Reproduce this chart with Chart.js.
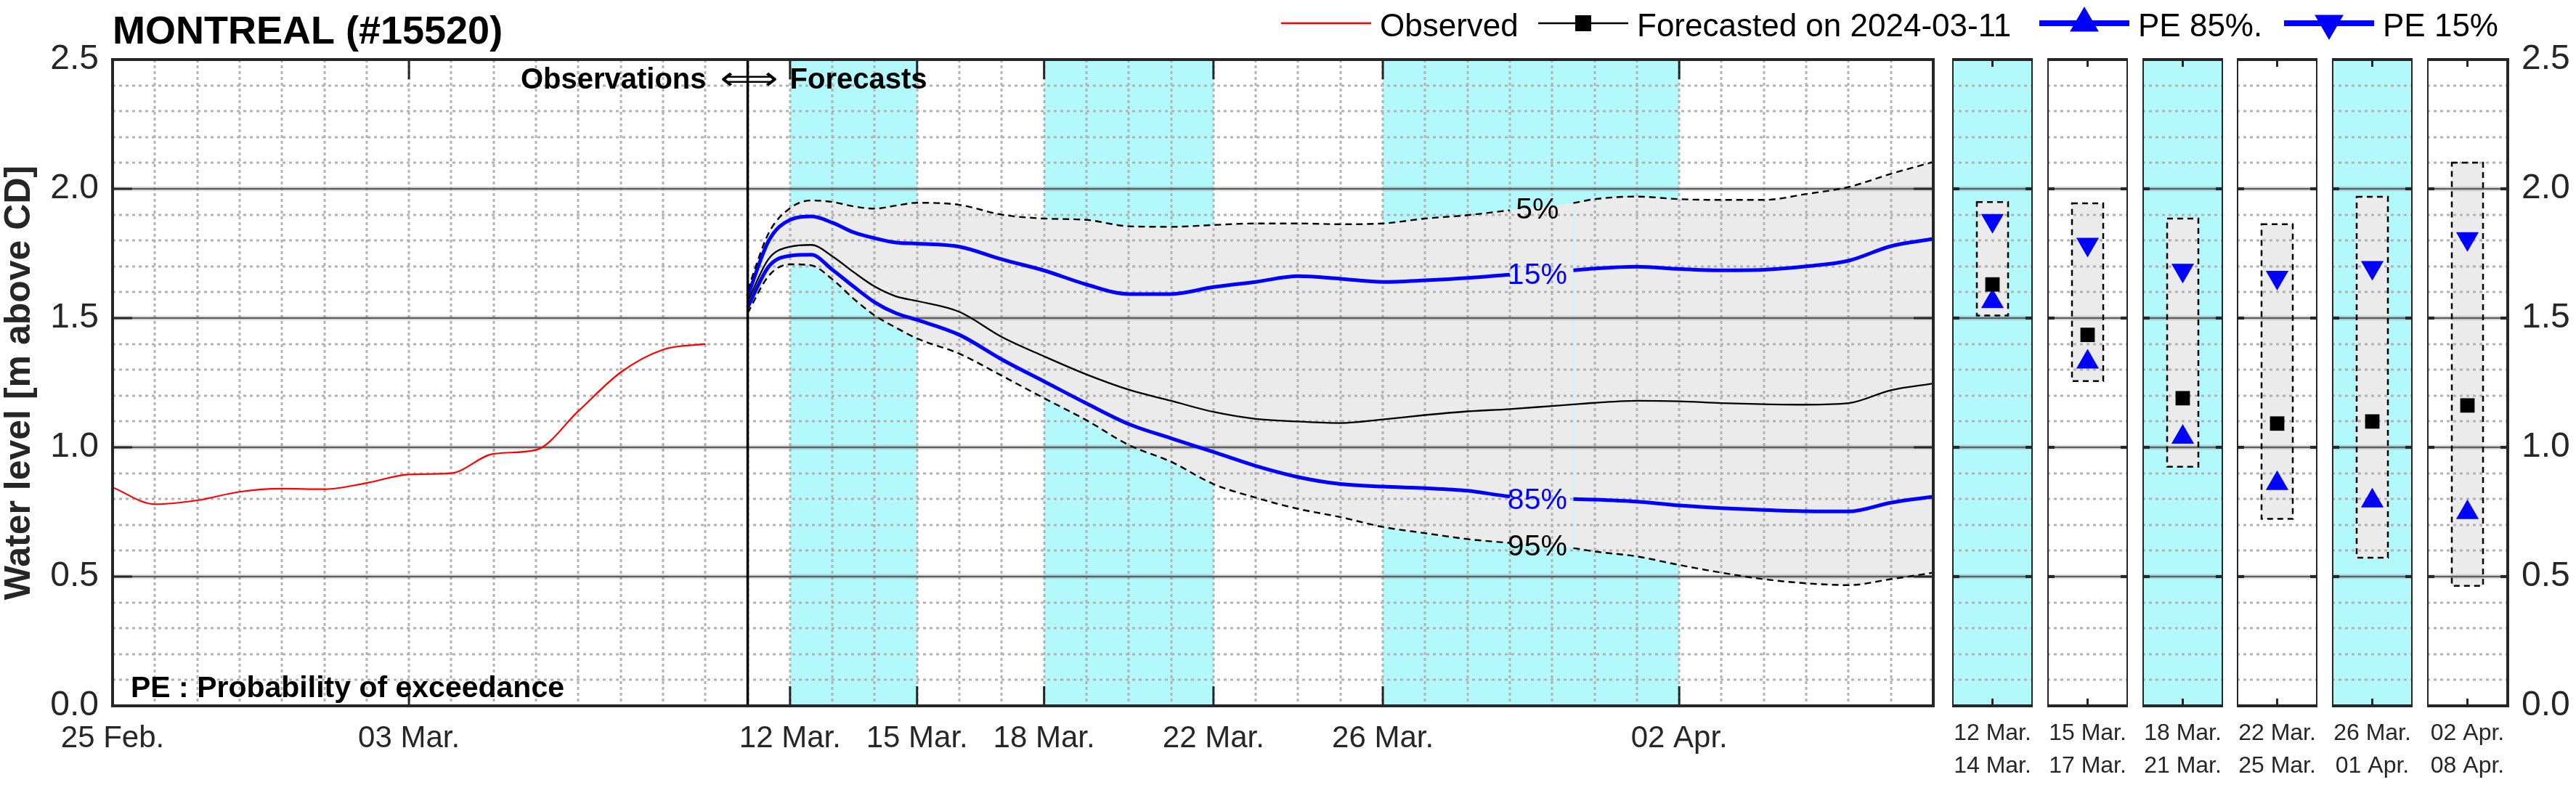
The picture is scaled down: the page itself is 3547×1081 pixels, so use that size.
<!DOCTYPE html>
<html>
<head>
<meta charset="utf-8">
<title>MONTREAL (#15520)</title>
<script src="https://cdn.jsdelivr.net/npm/chart.js@4.4.1/dist/chart.umd.min.js"></script>
<style>
  html, body { margin: 0; padding: 0; background: #ffffff; }
  #wrap { position: relative; width: 3547px; height: 1081px; overflow: hidden; }
  #wrap canvas { position: absolute; top: 0; }
</style>
</head>
<body>
<div id="wrap">
  <canvas id="mainChart" width="3547" height="1081" style="left:0px"></canvas>
</div>
<script>
const stationTitle = "MONTREAL (#15520)";
const yTitle = "Water level [m above CD]";

// main plot x axis : days counted from 25 Feb. 2024
const tickDays = [0, 7, 16, 19, 22, 26, 30, 37];
const tickLabels = ["25 Feb.", "03 Mar.", "12 Mar.", "15 Mar.", "18 Mar.", "22 Mar.", "26 Mar.", "02 Apr."];
const lastDay = 43;
const forecastStart = 15;
const shadedPeriods = [[16, 19], [22, 26], [30, 37]];

const obsDays = [0, 1, 2, 3, 4, 5, 6, 7, 8, 9, 10, 11, 12, 13, 14];
const observed = [0.845, 0.78, 0.795, 0.828, 0.84, 0.838, 0.862, 0.895, 0.90, 0.975, 0.99, 1.14, 1.29, 1.378, 1.40];

const fcDays = [15, 15.5, 16, 16.5, 17, 17.5, 18, 18.5, 19, 20, 21, 22, 23, 24, 25, 26, 27, 28, 29, 30,
                31, 32, 33, 34, 34.5, 35, 36, 37, 38, 39, 40, 41, 42, 43];
const pe5 = [1.61, 1.83, 1.925, 1.955, 1.949, 1.932, 1.923, 1.935, 1.946, 1.938, 1.90, 1.885, 1.88, 1.855, 1.853, 1.86, 1.866, 1.866, 1.863, 1.866,
             1.885, 1.898, 1.917, 1.933, 1.945, 1.96, 1.97, 1.96, 1.957, 1.957, 1.98, 2.007, 2.058, 2.104];
const pe15 = [1.585, 1.80, 1.88, 1.893, 1.869, 1.832, 1.809, 1.792, 1.788, 1.776, 1.727, 1.684, 1.63, 1.593, 1.593, 1.62, 1.64, 1.662, 1.652, 1.64,
              1.646, 1.655, 1.668, 1.68, 1.685, 1.692, 1.699, 1.69, 1.685, 1.687, 1.70, 1.722, 1.778, 1.806];
const forecast = [1.565, 1.73, 1.776, 1.783, 1.739, 1.678, 1.622, 1.584, 1.566, 1.524, 1.427, 1.352, 1.282, 1.223, 1.18, 1.137, 1.11, 1.10, 1.094, 1.108,
                  1.125, 1.139, 1.148, 1.16, 1.166, 1.172, 1.18, 1.178, 1.171, 1.167, 1.165, 1.171, 1.221, 1.247];
const pe85 = [1.542, 1.70, 1.741, 1.745, 1.687, 1.622, 1.561, 1.519, 1.493, 1.435, 1.34, 1.255, 1.17, 1.09, 1.035, 0.982, 0.928, 0.885, 0.858, 0.848,
              0.842, 0.832, 0.81, 0.802, 0.80, 0.798, 0.79, 0.775, 0.765, 0.758, 0.753, 0.752, 0.786, 0.809];
const pe95 = [1.52, 1.664, 1.708, 1.704, 1.65, 1.575, 1.51, 1.463, 1.421, 1.362, 1.277, 1.19, 1.105, 1.009, 0.944, 0.858, 0.805, 0.762, 0.73, 0.692,
              0.668, 0.645, 0.63, 0.615, 0.61, 0.597, 0.578, 0.545, 0.515, 0.49, 0.474, 0.467, 0.49, 0.515];

// summary panels on the right
const periodFrom = ["12 Mar.", "15 Mar.", "18 Mar.", "22 Mar.", "26 Mar.", "02 Apr."];
const periodTo = ["14 Mar.", "17 Mar.", "21 Mar.", "25 Mar.", "01 Apr.", "08 Apr."];
const periodHigh5 = [1.949, 1.944, 1.885, 1.863, 1.969, 2.101];
const periodLow95 = [1.510, 1.256, 0.925, 0.723, 0.573, 0.464];
const periodPE15 = [1.877, 1.785, 1.685, 1.657, 1.695, 1.807];
const periodFc = [1.630, 1.435, 1.190, 1.092, 1.100, 1.162];
const periodPE85 = [1.564, 1.330, 1.039, 0.860, 0.793, 0.748];
const periodShaded = [true, false, true, false, true, false];

const CYAN = "#b3f8fb";
const BAND = "#ebebeb";
const BLUE = "#0000ff";
const AXIS = "#262626";
const GRID = "#b2b2b2";
const FONT = "'Liberation Sans', Arial, Helvetica, sans-serif";

Chart.defaults.font.family = FONT;
Chart.defaults.animation = false;

function xy(xs, ys) {
  return xs.map((x, i) => ({ x: x, y: ys[i] }));
}

// line is interrupted where the percentile label sits
const gapFrom = 33, gapTo = 34.5;
const labelGap = {
  borderColor: c => (c.p0.parsed.x >= gapFrom && c.p1.parsed.x <= gapTo) ? "rgba(0,0,0,0)" : undefined
};

function hLine(ctx, x0, x1, y) {
  ctx.beginPath(); ctx.moveTo(x0, y); ctx.lineTo(x1, y); ctx.stroke();
}
function vLine(ctx, x, y0, y1) {
  ctx.beginPath(); ctx.moveTo(x, y0); ctx.lineTo(x, y1); ctx.stroke();
}

function drawLevelGrid(ctx, a, y) {
  ctx.save();
  ctx.strokeStyle = GRID;
  ctx.lineWidth = 3;
  ctx.setLineDash([4, 5]);
  for (let k = 1; k < 25; k++) {
    if (k % 5 === 0) continue;
    hLine(ctx, a.left, a.right, Math.round(y.getPixelForValue(k / 10)));
  }
  ctx.setLineDash([]);
  for (let k = 1; k < 5; k++) {
    const py = y.getPixelForValue(k * 0.5);
    ctx.strokeStyle = "rgba(0,0,0,0.10)";
    ctx.lineWidth = 7;
    hLine(ctx, a.left, a.right, py);
    ctx.strokeStyle = "#5f5f5f";
    ctx.lineWidth = 2.5;
    hLine(ctx, a.left, a.right, py);
  }
  ctx.restore();
}

function drawTriangle(ctx, x, y, r, down) {
  const s = down ? -1 : 1;
  ctx.beginPath();
  ctx.moveTo(x, y - s * r);
  ctx.lineTo(x + r * 0.866, y + s * r / 2);
  ctx.lineTo(x - r * 0.866, y + s * r / 2);
  ctx.closePath();
  ctx.fill();
}

const lineLabels = [
  { text: "5%", x: 33.65, y: 1.917, color: "#000000" },
  { text: "15%", x: 33.65, y: 1.665, color: BLUE },
  { text: "85%", x: 33.65, y: 0.793, color: BLUE },
  { text: "95%", x: 33.65, y: 0.614, color: "#000000" }
];

const legendItems = [
  { ds: 0, x: 1764, width: 2.5, marker: null },
  { ds: 4, x: 2118, width: 2.5, marker: "square" },
  { ds: 5, x: 2808, width: 8, marker: "up" },
  { ds: 3, x: 3145, width: 8, marker: "down" }
];

const mainDecor = {
  id: "mainDecor",
  beforeDraw(chart) {
    const { ctx, chartArea: a, scales: { x } } = chart;
    ctx.save();
    ctx.fillStyle = CYAN;
    shadedPeriods.forEach(p => {
      const x0 = x.getPixelForValue(p[0]);
      const x1 = x.getPixelForValue(p[1]);
      ctx.fillRect(x0, a.top, x1 - x0, a.bottom - a.top);
    });
    ctx.restore();
  },
  beforeDatasetsDraw(chart) {
    const { ctx, chartArea: a, scales: { x, y } } = chart;
    ctx.save();
    ctx.strokeStyle = GRID;
    ctx.lineWidth = 3;
    ctx.setLineDash([4, 4]);
    for (let d = 1; d < lastDay; d++) {
      vLine(ctx, Math.round(x.getPixelForValue(d)), a.top, a.bottom);
    }
    ctx.restore();
    drawLevelGrid(ctx, a, y);
  },
  afterDatasetsDraw(chart) {
    const { ctx, chartArea: a, scales: { x, y } } = chart;
    ctx.save();
    // observations / forecasts divider
    const xd = x.getPixelForValue(forecastStart);
    ctx.strokeStyle = "#000";
    ctx.lineWidth = 3.5;
    vLine(ctx, xd, a.top, a.bottom);

    // ticks and box
    ctx.strokeStyle = AXIS;
    ctx.lineWidth = 3;
    tickDays.forEach(d => {
      const px = x.getPixelForValue(d);
      vLine(ctx, px, a.top, a.top + 27);
      vLine(ctx, px, a.bottom, a.bottom - 27);
    });
    for (let k = 1; k < 5; k++) {
      const py = y.getPixelForValue(k * 0.5);
      hLine(ctx, a.left, a.left + 27, py);
      hLine(ctx, a.right, a.right - 27, py);
    }
    ctx.lineWidth = 4;
    ctx.strokeRect(a.left, a.top, a.right - a.left, a.bottom - a.top);

    // texts inside the plot
    ctx.fillStyle = "#000";
    ctx.textBaseline = "alphabetic";
    ctx.font = "bold 40px " + FONT;
    ctx.textAlign = "right";
    ctx.fillText("Observations", xd - 57, 122);
    ctx.textAlign = "left";
    ctx.fillText("Forecasts", xd + 58, 122);

    // long double arrow, stretched to the gap between the two words
    ctx.save();
    ctx.font = "44px 'DejaVu Sans'";
    ctx.textAlign = "center";
    ctx.textBaseline = "middle";
    const aw = ctx.measureText("\u27FA").width || 80;
    ctx.translate(xd + 2, 112);
    ctx.scale(80 / aw, 1);
    ctx.fillText("\u27FA", 0, 0);
    ctx.restore();

    ctx.font = "bold 41px " + FONT;
    ctx.textAlign = "left";
    ctx.fillText("PE : Probability of exceedance", a.left + 25, 960);

    ctx.font = "41px " + FONT;
    ctx.textAlign = "center";
    ctx.textBaseline = "middle";
    lineLabels.forEach(l => {
      ctx.fillStyle = l.color;
      ctx.fillText(l.text, x.getPixelForValue(l.x), y.getPixelForValue(l.y));
    });
    ctx.restore();
  },
  afterDraw(chart) {
    const ctx = chart.ctx;
    ctx.save();
    ctx.fillStyle = "#000";
    ctx.textAlign = "left";
    ctx.textBaseline = "alphabetic";
    ctx.font = "bold 54px " + FONT;
    ctx.fillText(stationTitle, chart.chartArea.left, 60);

    const ly = 32;
    ctx.font = "44px " + FONT;
    legendItems.forEach(item => {
      const ds = chart.data.datasets[item.ds];
      ctx.strokeStyle = ds.borderColor;
      ctx.lineWidth = item.width;
      hLine(ctx, item.x, item.x + 124, ly);
      ctx.fillStyle = ds.borderColor;
      const cx = item.x + 62;
      if (item.marker === "square") ctx.fillRect(cx - 11, ly - 11, 22, 22);
      if (item.marker === "up") drawTriangle(ctx, cx, ly, 23, false);
      if (item.marker === "down") drawTriangle(ctx, cx, ly, 23, true);
      ctx.fillStyle = "#000";
      ctx.fillText(ds.label, item.x + 136, 50);
    });
    ctx.restore();
  }
};

function noPad(s) {
  s.paddingLeft = 0; s.paddingRight = 0; s.paddingTop = 0; s.paddingBottom = 0;
}

new Chart(document.getElementById("mainChart"), {
  type: "line",
  data: {
    datasets: [
      { label: "Observed", data: xy(obsDays, observed), borderColor: "#ff0000", borderWidth: 2.2 },
      { label: "5%", data: xy(fcDays, pe5), borderColor: "#000000", borderWidth: 2.4, borderDash: [9, 6],
        fill: 2, backgroundColor: BAND, segment: labelGap },
      { label: "95%", data: xy(fcDays, pe95), borderColor: "#000000", borderWidth: 2.4, borderDash: [9, 6], segment: labelGap },
      { label: "PE 15%", data: xy(fcDays, pe15), borderColor: BLUE, borderWidth: 5, segment: labelGap },
      { label: "Forecasted on 2024-03-11", data: xy(fcDays, forecast), borderColor: "#000000", borderWidth: 2.3 },
      { label: "PE 85%.", data: xy(fcDays, pe85), borderColor: BLUE, borderWidth: 5, segment: labelGap }
    ]
  },
  options: {
    responsive: false,
    devicePixelRatio: 1,
    events: [],
    layout: { autoPadding: false, padding: { top: 82, right: 885, left: 0, bottom: 0 } },
    elements: {
      point: { radius: 0 },
      line: { cubicInterpolationMode: "monotone", fill: false }
    },
    scales: {
      x: {
        type: "linear", min: 0, max: lastDay,
        grid: { display: false, drawTicks: false, tickLength: 0 },
        border: { display: false },
        afterBuildTicks: s => { s.ticks = tickDays.map(v => ({ value: v })); },
        ticks: {
          autoSkip: false, maxRotation: 0, padding: 20, color: AXIS,
          font: { size: 42, lineHeight: 1.2 },
          callback: (v, i) => tickLabels[i]
        },
        afterFit: s => { s.height = 109; noPad(s); }
      },
      y: {
        min: 0, max: 2.5,
        grid: { display: false, drawTicks: false, tickLength: 0 },
        border: { display: false },
        ticks: { stepSize: 0.5, padding: 19, color: AXIS, font: { size: 48 }, callback: v => v.toFixed(1) },
        title: { display: true, text: yTitle, color: AXIS, font: { size: 50, weight: "bold", lineHeight: 1 }, padding: { top: 2, bottom: 0 } },
        afterFit: s => { s.width = 155; noPad(s); }
      }
    },
    plugins: {
      legend: { display: false },
      tooltip: { enabled: false },
      filler: { drawTime: "beforeDatasetsDraw", propagate: false }
    }
  },
  plugins: [mainDecor]
});

// ---- period panels ----
const panelDecor = {
  id: "panelDecor",
  beforeDraw(chart, args, opts) {
    if (!opts.shaded) return;
    const { ctx, chartArea: a } = chart;
    ctx.save();
    ctx.fillStyle = CYAN;
    ctx.fillRect(a.left, a.top, a.right - a.left, a.bottom - a.top);
    ctx.restore();
  },
  afterDatasetDraw(chart, args) {
    if (args.index !== 0) return;
    const { ctx, chartArea: a, scales: { y } } = chart;
    drawLevelGrid(ctx, a, y);
    const bar = chart.getDatasetMeta(0).data[0];
    const top = Math.min(bar.y, bar.base);
    const bottom = Math.max(bar.y, bar.base);
    ctx.save();
    ctx.strokeStyle = "#000";
    ctx.lineWidth = 2.5;
    ctx.setLineDash([8, 6]);
    ctx.strokeRect(bar.x - bar.width / 2, top, bar.width, bottom - top);
    ctx.restore();
  },
  afterDatasetsDraw(chart) {
    const { ctx, chartArea: a, scales: { x, y } } = chart;
    ctx.save();
    ctx.strokeStyle = AXIS;
    ctx.lineWidth = 3;
    const cx = x.getPixelForValue(0);
    vLine(ctx, cx, a.top, a.top + 10);
    vLine(ctx, cx, a.bottom, a.bottom - 10);
    ctx.lineWidth = 4;
    for (let k = 1; k < 5; k++) {
      const py = y.getPixelForValue(k * 0.5);
      hLine(ctx, a.left, a.left + 10, py);
      hLine(ctx, a.right, a.right - 10, py);
    }
    ctx.strokeRect(a.left, a.top, a.right - a.left, a.bottom - a.top);
    ctx.restore();
  }
};

const wrap = document.getElementById("wrap");
const panelLeft = 2688, panelStep = 130.8, panelWidth = 111, rightAxisWidth = 93;

periodFrom.forEach((from, i) => {
  const last = i === periodFrom.length - 1;
  const cv = document.createElement("canvas");
  cv.width = panelWidth + (last ? rightAxisWidth : 0);
  cv.height = 1081;
  cv.style.left = Math.round(panelLeft + i * panelStep) + "px";
  wrap.appendChild(cv);

  new Chart(cv, {
    type: "bar",
    data: {
      labels: [[from, periodTo[i]]],
      datasets: [
        { type: "bar", data: [[periodLow95[i], periodHigh5[i]]], backgroundColor: BAND, borderWidth: 0, barThickness: 43, order: 10 },
        { type: "line", label: "PE 15%", data: [periodPE15[i]], showLine: false, pointStyle: "triangle", pointRotation: 180,
          pointRadius: 18, pointBackgroundColor: BLUE, pointBorderWidth: 0, order: 1 },
        { type: "line", label: "Forecast", data: [periodFc[i]], showLine: false, pointStyle: "rect",
          pointRadius: 14, pointBackgroundColor: "#000", pointBorderWidth: 0, order: 1 },
        { type: "line", label: "PE 85%", data: [periodPE85[i]], showLine: false, pointStyle: "triangle",
          pointRadius: 18, pointBackgroundColor: BLUE, pointBorderWidth: 0, order: 1 }
      ]
    },
    options: {
      responsive: false,
      devicePixelRatio: 1,
      events: [],
      layout: { autoPadding: false, padding: { top: 82, left: 0, right: 0, bottom: 0 } },
      scales: {
        x: {
          grid: { display: false, drawTicks: false, tickLength: 0 },
          border: { display: false },
          ticks: { autoSkip: false, maxRotation: 0, padding: 16, color: AXIS, font: { size: 32, lineHeight: "45px" } },
          afterFit: s => { s.height = 109; noPad(s); }
        },
        y: {
          display: last, position: "right", min: 0, max: 2.5,
          grid: { display: false, drawTicks: false, tickLength: 0 },
          border: { display: false },
          ticks: { stepSize: 0.5, padding: 19, color: AXIS, font: { size: 48 }, callback: v => v.toFixed(1) },
          afterFit: s => { if (last) s.width = rightAxisWidth; noPad(s); }
        }
      },
      plugins: {
        legend: { display: false },
        tooltip: { enabled: false },
        panelDecor: { shaded: periodShaded[i] }
      }
    },
    plugins: [panelDecor]
  });
});
</script>
</body>
</html>
